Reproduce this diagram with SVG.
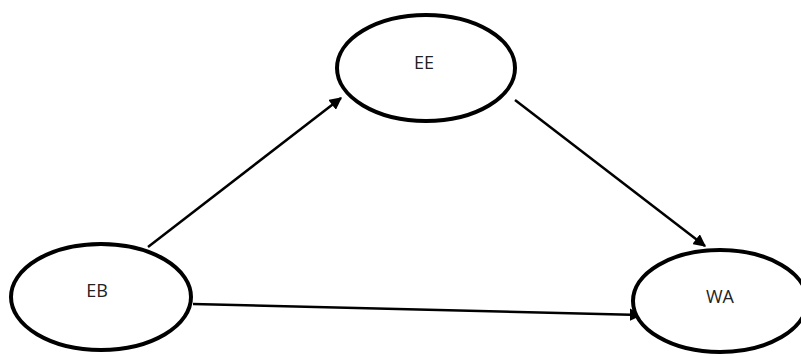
<svg xmlns="http://www.w3.org/2000/svg" width="801" height="356" viewBox="0 0 801 356">
<style>
.node{fill:#fff;stroke:#000;stroke-width:4}
.lbl{font-family:"Open Sans","Liberation Sans",sans-serif;font-size:18px;fill:#222;text-anchor:middle;dominant-baseline:central}
.edge{stroke:#000;stroke-width:2.5;fill:none}
</style>
<defs>
<marker id="ah" viewBox="0 0 10 10" refX="9" refY="5" markerWidth="5" markerHeight="5" orient="auto" markerUnits="strokeWidth">
<path d="M0,0 L10,5 L0,10 z" fill="#000"/>
</marker>
</defs>
<rect width="801" height="356" fill="#fff"/>
<g id="connectors">
<line class="edge" x1="148" y1="247" x2="341" y2="98" marker-end="url(#ah)"/>
<line class="edge" x1="515" y1="100" x2="705" y2="246" marker-end="url(#ah)"/>
<line class="edge" x1="193" y1="304" x2="641" y2="315" marker-end="url(#ah)"/>
</g>
<g id="EE">
<ellipse class="node" cx="426" cy="68" rx="89" ry="53"/>
<text class="lbl" x="424" y="62">EE</text>
</g>
<g id="EB">
<ellipse class="node" cx="101" cy="297" rx="90" ry="53"/>
<text class="lbl" x="97" y="290">EB</text>
</g>
<g id="WA">
<ellipse class="node" cx="720" cy="301" rx="87" ry="51"/>
<text class="lbl" x="720" y="296">WA</text>
</g>
</svg>
